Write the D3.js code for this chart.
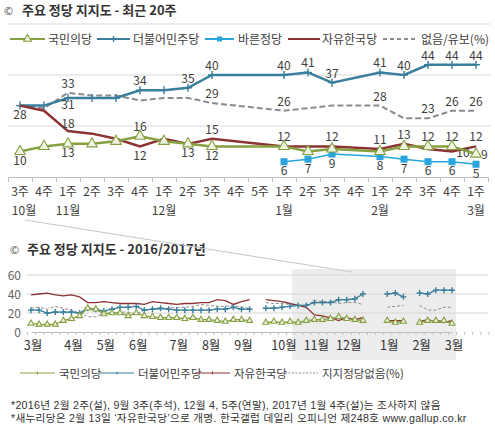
<!DOCTYPE html>
<html>
<head>
<meta charset="utf-8">
<script src="https://d3js.org/d3.v7.min.js"></script>
<style>
  body { margin: 0; background: #fff; }
  svg text { font-family: "Noto Sans CJK KR", "Noto Sans", sans-serif; fill: #404040; }
</style>
</head>
<body>
<svg width="495" height="430"></svg>
<script>

// ---- data: recent 20 weeks (10월 3주 .. 3월 1주), null = no survey ----

var weekLabels = ['3주', '4주', '1주', '2주', '3주', '4주', '1주', '2주', '3주', '4주',
    '5주', '1주', '2주', '3주', '4주', '1주', '2주', '3주', '4주', '1주'];
var monthLabels = [[0, '10월'], [2, '11월'], [6, '12월'], [11, '1월'], [15, '2월'], [19, '3월']];

var people = [10, 12, 13, 13, 14, 16, 14, 13, 12, null, null, 12, 10, 11, null, 10, 12, 12, 12, 9];
var minjoo = [28, 28, 31, 31, 31, 34, 34, 35, 40, null, null, 40, 41, 37, null, 41, 40, 44, 44, 44];
var bareun = [null, null, null, null, null, null, null, null, null, null, null, 6, 7, 9, null, 8, 7, 6, 6, 5];
var jayu = [28, 26, 18, 17, 15, 12, 15, 13, 15, null, null, 12, 12, 12, null, 11, 13, 11, 10, 12];
var none = [28, 27, 33, 32, 32, 30, 31, 31, 29, null, null, 26, 27, 28, null, 28, 23, 23, 26, 26];

// ---- data: 2016 weeks before that (3월 1주 .. 10월 2주) ----

var yearPeople = [9, 8, 8, 8, 12, 14, 17, 25, 24, 19, 20, 20, 17, 20, 17, 16, 15, 15, 15, 14, 15,
    13, 13, 12, 11, 13, 13, 12, null, 10, 11, 10, 11];
var yearMinjoo = [23, 23, 20, 21, 21, 21, 20, 25, 24, 22, 24, 26, 26, 27, 23, 24, 25, 24, 23, 23, 23,
    23, 23, 24, 24, 26, 24, 24, null, 25, 25, 26, 27];
var yearJayu = [39, 40, 41, 39, 38, 39, 37, 31, 31, 32, 31, 30, 30, 30, 29, 32, 31, 30, 29, 30, 30,
    31, 31, 34, 33, 29, 32, 34, null, 34, 33, 32, 30];
var yearNone = [25, 26, 24, 27, 25, 23, 20, 16, 16, 20, 20, 21, 21, 19, 23, 24, 24, 25, 26, 26, 27,
    29, 28, 27, 27, 28, 26, 25, null, 31, 30, 30, 29];
var yearMonths = [[0, '3월'], [5, '4월'], [9, '5월'], [13, '6월'], [18, '7월'], [22, '8월'], [26, '9월'],
    [31, '10월'], [35, '11월'], [39, '12월'], [44, '1월'], [48, '2월'], [52, '3월']];

var footnotes = [
    '*2016년 2월 2주(설), 9월 3주(추석), 12월 4, 5주(연말), 2017년 1월 4주(설)는 조사하지 않음',
    '*새누리당은 2월 13일 ‘자유한국당’으로 개명. 한국갤럽 데일리 오피니언 제248호 www.gallup.co.kr'
];

// colours
var cGreen = '#86a040', cBlue = '#3a7f9c', cSky = '#27a5dc', cRed = '#8c3333', cGray = '#8c8c8c';

var svg = d3.select('svg');

// titles
function title(ty, sx, tx, txt) {
    svg.append('text').attr('x', sx).attr('y', ty).text('©')
        .attr('font-size', 11).style('fill', '#555');
    svg.append('text').attr('x', tx).attr('y', ty).text(txt)
        .attr('font-size', 13).attr('font-weight', 'bold').style('fill', '#333');
}
title(15, 4, 22, '주요 정당 지지도 - 최근 20주');
title(254, 10, 27, '주요 정당 지지도 - 2016/2017년');

// ================= top chart =================

var x = d3.scaleLinear().domain([-0.5, 19.5]).range([8, 488]);
var y = d3.scaleLinear().domain([0, 60]).range([177, 24]);

svg.append('g').selectAll('line')
    .data([20, 40, 60]).enter().append('line')
    .attr('x1', 8).attr('x2', 490)
    .attr('y1', function (d) { return y(d); }).attr('y2', function (d) { return y(d); })
    .attr('stroke', '#d9d9d9');

var xAxis = svg.append('g')
    .attr('transform', 'translate(0,' + y(0) + ')')
    .call(d3.axisBottom(x).tickValues(d3.range(-0.5, 20, 1)).tickSize(5).tickSizeOuter(0).tickFormat(''));
xAxis.selectAll('path, line').attr('stroke', '#bfbfbf');

svg.append('g').selectAll('text')
    .data(weekLabels).enter().append('text')
    .attr('x', function (d, i) { return x(i); })
    .attr('y', 196)
    .attr('text-anchor', 'middle').attr('font-size', 12)
    .text(function (d) { return d; });

svg.append('g').selectAll('text')
    .data(monthLabels).enter().append('text')
    .attr('x', function (d) { return Math.max(x(d[0]), 24); })
    .attr('y', 215)
    .attr('text-anchor', 'middle').attr('font-size', 12)
    .text(function (d) { return d[1]; });

// label placement: a = above, b = below, r = right, br = right-below
var topSeries = [
    { values: none, color: cGray, width: 2, dash: '6,3',
      labels: { 2: 'a', 8: 'a', 11: 'a', 15: 'a', 17: 'a', 18: 'a', 19: 'a' } },
    { values: minjoo, color: cBlue, width: 2.5, marker: 'plus',
      labels: { 0: 'b', 2: 'bs', 5: 'a', 7: 'a', 8: 'a', 11: 'a', 12: 'a', 13: 'a', 15: 'a', 16: 'a', 17: 'a', 18: 'a', 19: 'a' } },
    { values: bareun, color: cSky, width: 1.5, marker: 'square',
      labels: { 11: 'b', 12: 'b', 13: 'b', 15: 'b', 16: 'b', 17: 'b', 18: 'b', 19: 'b' } },
    { values: jayu, color: cRed, width: 2.5,
      labels: { 2: 'as', 5: 'b', 8: 'a', 13: 'a', 15: 'a', 16: 'a', 18: 'br', 19: 'a' } },
    { values: people, color: cGreen, width: 2.5, marker: 'tri',
      labels: { 0: 'b', 2: 'b', 5: 'a', 7: 'b', 8: 'b', 11: 'a', 17: 'a', 18: 'a', 19: 'r' } }
];
var labelDx = { a: 0, as: 0, b: 0, bs: 0, r: 5, br: 11 };
var labelDy = { a: -5, as: -3.5, b: 13.5, bs: 11.5, r: 5, br: 5 };

function drawMarkers(g, pts, kind, color, sz) {
    if (kind === 'plus') {
        g.selectAll('path.m').data(pts).enter().append('path')
            .attr('d', 'M' + (-sz) + ',0H' + sz + 'M0,' + (-sz) + 'V' + sz)
            .attr('transform', function (d) { return 'translate(' + d.px + ',' + d.py + ')'; })
            .attr('stroke', color).attr('stroke-width', 1.4);
    } else if (kind === 'tri') {
        g.selectAll('path.m').data(pts).enter().append('path')
            .attr('d', d3.symbol(d3.symbolTriangle, sz * sz * 3))
            .attr('transform', function (d) { return 'translate(' + d.px + ',' + d.py + ')'; })
            .attr('fill', '#eef2e2').attr('stroke', color).attr('stroke-width', 1.1);
    } else if (kind === 'square') {
        g.selectAll('rect.m').data(pts).enter().append('rect')
            .attr('x', function (d) { return d.px - sz; }).attr('y', function (d) { return d.py - sz; })
            .attr('width', sz * 2).attr('height', sz * 2).attr('fill', color);
    }
}

topSeries.forEach(function (s) {
    var pts = [];
    s.values.forEach(function (v, i) {
        if (v !== null) pts.push({ i: i, v: v, px: x(i), py: y(v) });
    });
    var g = svg.append('g');
    g.append('path').datum(pts)
        .attr('fill', 'none').attr('stroke', s.color).attr('stroke-width', s.width)
        .attr('stroke-dasharray', s.dash || null)
        .attr('d', d3.line().x(function (d) { return d.px; }).y(function (d) { return d.py; }));
    drawMarkers(g, pts, s.marker, s.color, s.marker === 'square' ? 3.5 : 4);

    // data labels
    g.selectAll('text').data(pts.filter(function (d) { return s.labels[d.i]; }))
        .enter().append('text')
        .attr('font-size', 12)
        .attr('text-anchor', function (d) { return s.labels[d.i] === 'r' ? 'start' : 'middle'; })
        .attr('x', function (d) { return d.px + labelDx[s.labels[d.i]]; })
        .attr('y', function (d) { return d.py + labelDy[s.labels[d.i]]; })
        .text(function (d) { return d.v; });
});

// top legend
var topLegend = [
    { name: '국민의당', color: cGreen, marker: 'tri', x0: 10, x1: 45, tx: 48 },
    { name: '더불어민주당', color: cBlue, marker: 'plus', x0: 97, x1: 130, tx: 133 },
    { name: '바른정당', color: cSky, marker: 'square', x0: 205, x1: 234, tx: 238 },
    { name: '자유한국당', color: cRed, x0: 288, x1: 320, tx: 322 },
    { name: '없음/유보(%)', color: cGray, dash: '4,3', x0: 383, x1: 416, tx: 421 }
];
topLegend.forEach(function (l) {
    var g = svg.append('g');
    g.append('line').attr('x1', l.x0).attr('x2', l.x1).attr('y1', 39).attr('y2', 39)
        .attr('stroke', l.color).attr('stroke-width', 2).attr('stroke-dasharray', l.dash || null);
    drawMarkers(g, [{ px: (l.x0 + l.x1) / 2, py: 39 }], l.marker, l.color, l.marker === 'square' ? 2.5 : 3);
    g.append('text').attr('x', l.tx).attr('y', 43.5).attr('font-size', 12).text(l.name);
});

// ================= bottom chart =================

var bx = d3.scaleLinear().domain([0, 52]).range([31, 452]);
var by = d3.scaleLinear().domain([0, 60]).range([332, 275]);

// shaded zone = the recent 20 weeks
svg.append('rect')
    .attr('x', bx(32.5) - 2).attr('y', 269)
    .attr('width', bx(52.5) - bx(32.5) + 2).attr('height', 91)
    .attr('fill', '#ededed');

// connector from the top chart
svg.append('line').attr('x1', 25).attr('y1', 220).attr('x2', 352).attr('y2', 272)
    .attr('stroke', '#c8c8c8').attr('stroke-width', 1);

svg.append('g').selectAll('line')
    .data([20, 40, 60]).enter().append('line')
    .attr('x1', 27).attr('x2', 488)
    .attr('y1', function (d) { return by(d); }).attr('y2', function (d) { return by(d); })
    .attr('stroke', '#d6d6d6');

svg.append('g').selectAll('text')
    .data([0, 20, 40, 60]).enter().append('text')
    .attr('x', 21).attr('y', function (d) { return by(d) + 4.5; })
    .attr('text-anchor', 'end').attr('font-size', 12).style('fill', '#666')
    .text(function (d) { return d; });

var bAxis = svg.append('g')
    .attr('transform', 'translate(0,' + by(0) + ')')
    .call(d3.axisBottom(bx).tickValues(d3.range(-0.5, 57, 1)).tickSize(3).tickSizeOuter(0).tickFormat(''));
bAxis.selectAll('path, line').attr('stroke', '#bfbfbf');

svg.append('g').selectAll('text')
    .data(yearMonths).enter().append('text')
    .attr('x', function (d) { return bx(d[0]) + 2; })
    .attr('y', 350)
    .attr('text-anchor', 'middle').attr('font-size', 12.5).style('fill', '#333')
    .text(function (d) { return d[1]; });

var bottomSeries = [
    { values: yearNone.concat(none), color: cGray, width: 1, dash: '3,2' },
    { values: yearJayu.concat(jayu), color: cRed, width: 1.3 },
    { values: yearMinjoo.concat(minjoo), color: cBlue, width: 1.3, marker: 'plus' },
    { values: yearPeople.concat(people), color: cGreen, width: 1.3, marker: 'tri' }
];

bottomSeries.forEach(function (s) {
    var pts = s.values.map(function (v, i) {
        return { i: i, v: v, px: bx(i), py: v === null ? 0 : by(v) };
    });
    var g = svg.append('g');
    g.append('path').datum(pts)
        .attr('fill', 'none').attr('stroke', s.color).attr('stroke-width', s.width)
        .attr('stroke-dasharray', s.dash || null)
        .attr('d', d3.line()
            .defined(function (d) { return d.v !== null; })
            .x(function (d) { return d.px; }).y(function (d) { return d.py; }));
    drawMarkers(g, pts.filter(function (d) { return d.v !== null; }), s.marker, s.color, s.marker === 'tri' ? 2.3 : 3);
});

// bottom legend
var bottomLegend = [
    { name: '국민의당', color: cGreen, x0: 20, x1: 55, tx: 59 },
    { name: '더불어민주당', color: cBlue, x0: 100, x1: 134, tx: 138 },
    { name: '자유한국당', color: cRed, x0: 195, x1: 230, tx: 234 },
    { name: '지지정당없음(%)', color: cGray, dash: '2,1.5', x0: 278, x1: 318, tx: 322 }
];
bottomLegend.forEach(function (l) {
    var g = svg.append('g');
    g.append('line').attr('x1', l.x0).attr('x2', l.x1).attr('y1', 373).attr('y2', 373)
        .attr('stroke', l.color).attr('stroke-width', 1).attr('stroke-dasharray', l.dash || null);
    if (!l.dash) {
        g.append('path').attr('d', 'M0,-1.5V1.5')
            .attr('transform', 'translate(' + ((l.x0 + l.x1) / 2) + ',373)')
            .attr('stroke', l.color);
    }
    g.append('text').attr('x', l.tx).attr('y', 377.5).attr('font-size', 11.5).text(l.name);
});

// footnotes
svg.append('g').selectAll('text')
    .data(footnotes).enter().append('text')
    .attr('x', 11).attr('y', function (d, i) { return 409 + i * 13; })
    .attr('font-size', 10.7).style('letter-spacing', '0.25px').style('fill', '#333')
    .style('font-family', '"Liberation Sans", "Noto Sans CJK KR", sans-serif')
    .text(function (d) { return d; });

</script>
</body>
</html>
